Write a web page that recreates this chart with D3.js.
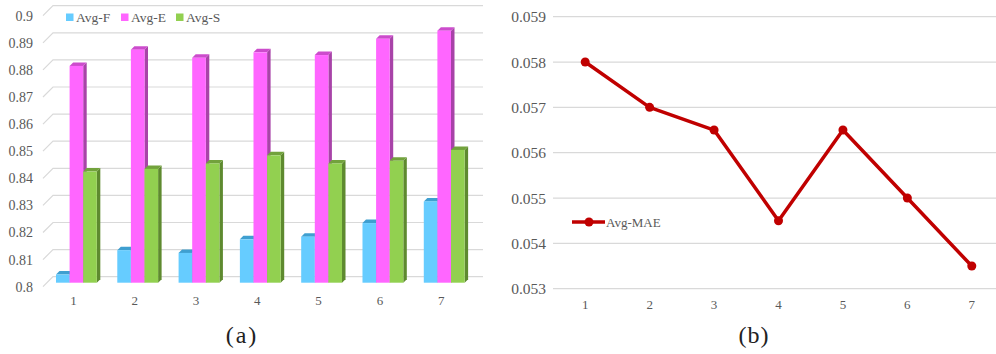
<!DOCTYPE html>
<html>
<head>
<meta charset="utf-8">
<script src="https://cdn.jsdelivr.net/npm/d3@7"></script>
<style>
  html, body { margin: 0; padding: 0; background: #fff; }
  svg { display: block; }
  text { font-family: "Liberation Serif", "Times New Roman", serif; }
</style>
</head>
<body>
<svg id="chart" width="996" height="354"></svg>
<script>
// ---- data ----
const categories = [1, 2, 3, 4, 5, 6, 7];
const seriesNames = ["Avg-F", "Avg-E", "Avg-S"];
const avgF = [0.803, 0.812, 0.811, 0.816, 0.817, 0.822, 0.830];
const avgE = [0.880, 0.886, 0.883, 0.885, 0.884, 0.890, 0.893];
const avgS = [0.841, 0.842, 0.844, 0.847, 0.844, 0.845, 0.849];
const leftTicks = [0.8, 0.81, 0.82, 0.83, 0.84, 0.85, 0.86, 0.87, 0.88, 0.89, 0.9];

const maeName = "Avg-MAE";
const avgMAE = [0.058, 0.057, 0.0565, 0.0545, 0.0565, 0.055, 0.0535];
const rightTicks = [0.053, 0.054, 0.055, 0.056, 0.057, 0.058, 0.059];

const svg = d3.select("#chart");
const textGray = "#595959";
const gridGray = "#d9d9d9";

// ================= (a) 3-D clustered columns =================
const palette = {
  "Avg-F": { front: "#66ccff", top: "#3f9fd0", side: "#3a8fbf" },
  "Avg-E": { front: "#ff66ff", top: "#cc4ccc", side: "#a843a8" },
  "Avg-S": { front: "#92d050", top: "#72a23c", side: "#5e8a2f" }
};
const values = { "Avg-F": avgF, "Avg-E": avgE, "Avg-S": avgS };

// oblique depth: a point pushed back by d moves right by d and up by d
const dFront = 4, dBack = 7.5, dWall = 10;

const yA = d3.scaleLinear().domain([0.8, 0.9]).range([286.7, 15.7]);
const xA = d3.scaleBand().domain(categories).range([41.75, 470.85]);
const groupW = xA.bandwidth() * 0.666;
const xSub = d3.scaleBand().domain(seriesNames).range([0, groupW]);

const gA = svg.append("g");

// back wall gridlines plus the short diagonals of the side wall
const wallLeft = 43, wallRight = 483;
gA.append("g").selectAll("path").data(leftTicks).join("path")
  .attr("d", v => `M${wallLeft},${yA(v)} L${wallLeft + dWall},${yA(v) - dWall} L${wallRight},${yA(v) - dWall}`)
  .attr("fill", "none").attr("stroke", gridGray).attr("stroke-width", 1.2);

// y axis labels
const yAxisA = d3.axisLeft(yA).tickValues(leftTicks).tickFormat(d3.format("~g")).tickSize(0).tickPadding(0);
gA.append("g").attr("transform", "translate(33,0)").call(yAxisA)
  .call(g => g.select(".domain").remove())
  .selectAll("text").attr("fill", textGray).style("font-size", "14px")
  .style("font-family", "'Liberation Serif', serif");

// bars
const bars = gA.append("g");
categories.forEach((c, i) => {
  seriesNames.forEach(s => {
    const v = values[s][i];
    const col = palette[s];
    const x = xA(c) + xA.bandwidth() / 2 - groupW / 2 + xSub(s) + dFront;
    const w = xSub.bandwidth();
    const yt = yA(v) - dFront;
    const yb = yA(0.8) - dFront;
    const dd = dBack - dFront;
    const b = bars.append("g");
    b.append("path") // side
      .attr("d", `M${x + w},${yt} L${x + w + dd},${yt - dd} L${x + w + dd},${yb - dd} L${x + w},${yb} Z`)
      .attr("fill", col.side);
    b.append("path") // top
      .attr("d", `M${x},${yt} L${x + w},${yt} L${x + w + dd},${yt - dd} L${x + dd},${yt - dd} Z`)
      .attr("fill", col.top);
    b.append("rect") // front
      .attr("x", x).attr("y", yt).attr("width", w).attr("height", yb - yt)
      .attr("fill", col.front);
  });
});

// x axis labels
const xAxisA = d3.axisBottom(xA).tickSize(0).tickPadding(0);
gA.append("g").attr("transform", "translate(1,296)").call(xAxisA)
  .call(g => g.select(".domain").remove())
  .selectAll("text").attr("fill", textGray).style("font-size", "13px")
  .style("font-family", "'Liberation Serif', serif");

// legend
const legA = gA.append("g");
const legX = [66, 121, 176];
seriesNames.forEach((s, i) => {
  legA.append("rect").attr("x", legX[i]).attr("y", 13.5).attr("width", 7.5).attr("height", 7.5)
    .attr("fill", palette[s].front);
  legA.append("text").attr("x", legX[i] + 10).attr("y", 22).text(s)
    .attr("fill", textGray).style("font-size", "13.5px");
});

// caption
svg.append("text").attr("x", 242).attr("y", 343).attr("text-anchor", "middle")
  .style("font-size", "24px").style("letter-spacing", "2px").attr("fill", "#222").text("(a)");

// ================= (b) line chart =================
const yB = d3.scaleLinear().domain([0.053, 0.059]).range([288.7, 16.7]);
const xB = d3.scaleBand().domain(categories).range([553, 1004]);
const cx = c => xB(c) + xB.bandwidth() / 2;
const gB = svg.append("g");

gB.append("g").selectAll("line").data(rightTicks).join("line")
  .attr("x1", 553).attr("x2", 996)
  .attr("y1", v => yB(v)).attr("y2", v => yB(v))
  .attr("stroke", gridGray).attr("stroke-width", 1.3);

const yAxisB = d3.axisLeft(yB).tickValues(rightTicks).tickFormat(d3.format(".3f")).tickSize(0).tickPadding(0);
gB.append("g").attr("transform", "translate(546,0)").call(yAxisB)
  .call(g => g.select(".domain").remove())
  .selectAll("text").attr("fill", textGray).style("font-size", "15.5px")
  .style("font-family", "'Liberation Serif', serif");

const xAxisB = d3.axisBottom(xB).tickSize(0).tickPadding(0);
gB.append("g").attr("transform", "translate(0,300)").call(xAxisB)
  .call(g => g.select(".domain").remove())
  .selectAll("text").attr("fill", textGray).style("font-size", "13px")
  .style("font-family", "'Liberation Serif', serif");

const lineColor = "#c00000";
const line = d3.line().x((d, i) => cx(categories[i])).y(d => yB(d));
gB.append("path").datum(avgMAE).attr("d", line)
  .attr("fill", "none").attr("stroke", lineColor).attr("stroke-width", 3.5)
  .attr("stroke-linejoin", "round");
gB.append("g").selectAll("circle").data(avgMAE).join("circle")
  .attr("cx", (d, i) => cx(categories[i])).attr("cy", d => yB(d)).attr("r", 4.5)
  .attr("fill", lineColor);

// legend
const legB = gB.append("g");
legB.append("line").attr("x1", 572).attr("x2", 605).attr("y1", 222).attr("y2", 222)
  .attr("stroke", lineColor).attr("stroke-width", 3.5);
legB.append("circle").attr("cx", 589).attr("cy", 222).attr("r", 4.5).attr("fill", lineColor);
legB.append("text").attr("x", 606).attr("y", 226.5).text(maeName)
  .attr("fill", textGray).style("font-size", "13px");

svg.append("text").attr("x", 754).attr("y", 343).attr("text-anchor", "middle")
  .style("font-size", "24px").style("letter-spacing", "1px").attr("fill", "#222").text("(b)");
</script>
</body>
</html>
